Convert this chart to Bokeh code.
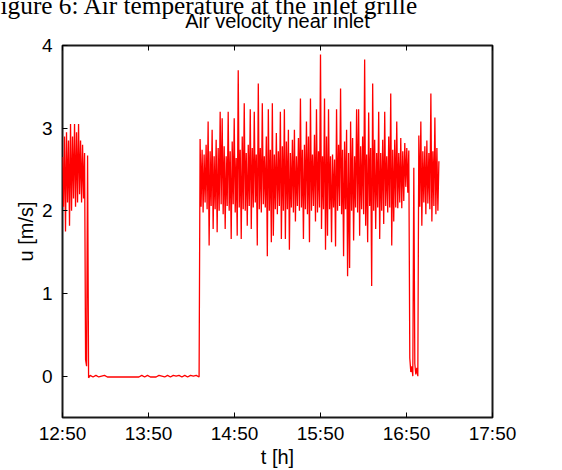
from bokeh.plotting import figure
from bokeh.models import FixedTicker, LinearAxis, Range1d
from bokeh.embed import file_html
from bokeh.resources import INLINE

# ---------------- texts ----------------
caption_text = "Figure 6: Air temperature at the inlet grille"
title_text = "Air velocity near inlet"
x_label = "t [h]"
y_label = "u [m/s]"
x_tick_labels = ["12:50", "13:50", "14:50", "15:50", "16:50", "17:50"]
y_ticks = [0, 1, 2, 3, 4]

# ---------------- data ----------------
# segment A: first run, then shutdown (sampled every 42 s)
seg_a_start = "12:50:00"
seg_a_step_s = 42
seg_a_u = [2.65, 2.05, 2.90, 1.75, 2.95, 2.10, 2.85, 1.82, 3.05, 2.00,
           2.90, 2.15, 3.05, 2.05, 2.95, 2.10, 3.05, 2.20, 2.85, 2.10,
           2.80, 2.15, 2.70, 0.20, 0.12, 2.67, -0.02]

# segment Z: fan off (sampled every 120 s)
seg_z_start = "13:09:18"
seg_z_step_s = 120
seg_z_u = [0.01, -0.01, 0.01, -0.01, 0.00, 0.01, -0.01, -0.01, -0.01, -0.01,
           -0.01, -0.01, -0.01, -0.01, -0.01, -0.01, -0.01, -0.01, 0.01, -0.01,
           0.01, -0.01, -0.01, -0.01, 0.01, 0.00, -0.01, 0.01, -0.01, 0.01,
           0.00, 0.01, -0.01, 0.01, -0.01, 0.01, 0.00, 0.01, -0.01]

# segment B: second run incl. short stop near 16:55 (sampled every 42 s)
seg_b_start = "14:26:00"
seg_b_step_s = 42
seg_b_u = [2.87, 2.05, 2.74, 1.98, 2.68, 2.10, 2.80, 2.02, 3.08, 1.58,
           2.72, 2.06, 2.98, 1.78, 2.66, 2.02, 2.86, 1.74, 2.76, 2.00,
           3.20, 2.08, 3.12, 1.96, 2.78, 1.78, 2.66, 2.06, 3.20, 2.00,
           2.72, 1.66, 2.84, 2.08, 3.12, 1.98, 2.64, 1.70, 3.70, 2.04,
           2.74, 1.66, 2.90, 2.02, 3.30, 2.00, 2.70, 1.82, 2.80, 2.06,
           3.23, 1.78, 2.76, 2.04, 3.20, 2.10, 2.68, 1.58, 3.54, 2.02,
           2.76, 1.98, 3.30, 2.08, 2.66, 2.04, 2.90, 1.45, 3.23, 2.00,
           2.74, 1.62, 3.30, 1.70, 2.68, 2.02, 2.94, 1.96, 2.72, 2.06,
           3.20, 1.66, 2.78, 2.00, 3.23, 1.66, 2.84, 2.02, 2.98, 1.53,
           2.70, 2.04, 2.86, 1.98, 2.98, 1.87, 2.66, 2.06, 2.88, 2.00,
           3.36, 2.04, 2.74, 1.66, 2.80, 2.02, 3.08, 1.96, 2.90, 1.62,
           3.36, 2.00, 2.68, 2.06, 2.92, 1.87, 3.23, 1.98, 2.72, 2.04,
           3.89, 1.78, 2.66, 2.02, 3.36, 1.53, 2.90, 1.70, 3.23, 2.02,
           2.66, 1.62, 2.68, 2.04, 2.62, 1.57, 3.23, 2.00, 2.80, 2.06,
           3.48, 1.96, 2.74, 1.45, 2.84, 2.02, 2.98, 1.21, 2.70, 1.31,
           3.08, 2.00, 2.88, 1.64, 2.66, 2.04, 3.23, 1.98, 3.23, 1.70,
           2.78, 2.02, 2.90, 1.96, 3.83, 1.82, 2.68, 1.62, 3.19, 2.06,
           2.76, 1.09, 3.54, 2.00, 2.86, 1.78, 2.70, 2.04, 3.20, 1.66,
           2.70, 2.00, 2.86, 1.84, 3.20, 2.06, 2.66, 1.98, 2.90, 2.04,
           3.42, 1.58, 2.74, 1.87, 2.86, 2.04, 3.08, 2.03, 2.70, 2.10,
           2.88, 2.03, 2.72, 2.12, 2.82, 2.29, 2.76, 2.22, 2.73, 0.22,
           0.05, 0.12, 0.00, 2.52, 0.15, 0.02, 0.10, 0.00, 2.91, 2.05,
           3.08, 1.82, 2.72, 2.10, 2.78, 1.96, 2.85, 2.09, 2.70, 2.02,
           3.42, 1.87, 2.72, 2.06, 3.13, 1.96, 2.76, 2.00, 2.60]

# ---------------- helpers ----------------
def clock_minutes(clock):
    parts = [int(v) for v in clock.split(":")]
    h, m = parts[0], parts[1]
    s = parts[2] if len(parts) > 2 else 0
    return h * 60 + m + s / 60.0

origin = clock_minutes(x_tick_labels[0])
x_ticks = [clock_minutes(c) - origin for c in x_tick_labels]

t, u = [], []
for start, step, vals in [(seg_a_start, seg_a_step_s, seg_a_u),
                          (seg_z_start, seg_z_step_s, seg_z_u),
                          (seg_b_start, seg_b_step_s, seg_b_u)]:
    t0 = clock_minutes(start) - origin
    for i, v in enumerate(vals):
        t.append(t0 + i * step / 60.0)
        u.append(v)

SANS = "Liberation Sans"
SERIF = "Liberation Serif"

p = figure(width=562, height=470, output_backend="svg", toolbar_location=None,
           x_range=Range1d(x_ticks[0], x_ticks[-1]), y_range=Range1d(-0.5, 4),
           min_border_left=62, min_border_right=70, min_border_top=45,
           min_border_bottom=53, background_fill_color="white",
           border_fill_color="white")
p.grid.visible = False
p.outline_line_color = "black"
p.outline_line_width = 2
p.outline_line_alpha = 0.9

# document caption above the chart (cut by the page top, as in the source)
p.title.text = caption_text
p.title.align = "left"
p.title.offset = -76
p.title.vertical_align = "top"
p.title.standoff = -32
p.title.text_font = SERIF
p.title.text_font_size = "25.3px"
p.title.text_font_style = "normal"
p.title.text_color = "black"

xa = p.xaxis[0]
xa.ticker = FixedTicker(ticks=x_ticks)
xa.major_label_overrides = {k: lab for k, lab in zip(x_ticks, x_tick_labels)}
xa.axis_label = x_label
xa.axis_label_standoff = -1
ya = p.yaxis[0]
ya.ticker = FixedTicker(ticks=y_ticks)
ya.axis_label = y_label
ya.axis_label_standoff = 2
for ax in (xa, ya):
    ax.axis_line_color = None
    ax.major_tick_in = 5
    ax.major_tick_out = 0
    ax.minor_tick_in = 0
    ax.minor_tick_out = 0
    ax.major_tick_line_color = "black"
    ax.major_label_text_font = SANS
    ax.major_label_text_font_size = "19px"
    ax.major_label_text_color = "black"
    ax.axis_label_text_font = SANS
    ax.axis_label_text_font_size = "20px"
    ax.axis_label_text_font_style = "normal"
    ax.axis_label_text_color = "black"
xa.major_label_standoff = 5
ya.major_label_standoff = 10

# top axis: inward ticks, carries the chart title
top = LinearAxis(ticker=FixedTicker(ticks=x_ticks), axis_line_color=None,
                 major_tick_in=5, major_tick_out=0, minor_tick_in=0,
                 minor_tick_out=0, major_label_text_font_size="0px",
                 major_label_standoff=0, major_tick_line_color="black")
top.major_label_overrides = {k: "" for k in x_ticks}
top.axis_label = title_text
top.axis_label_standoff = 14
top.axis_label_text_font = SANS
top.axis_label_text_font_size = "20px"
top.axis_label_text_font_style = "normal"
top.axis_label_text_color = "black"
p.add_layout(top, "above")

p.line(t, u, line_color="#ff0000", line_width=1.3)

open("out.html", "w").write(file_html(p, INLINE))
